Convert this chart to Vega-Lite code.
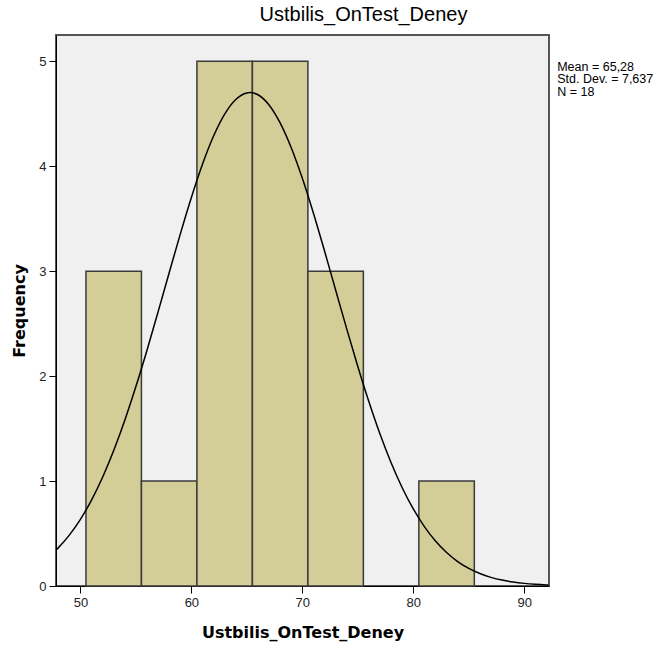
{
  "$schema": "https://vega.github.io/schema/vega-lite/v6.json",
  "autosize": "none",
  "width": 493,
  "height": 551,
  "padding": {"left": 56, "top": 35, "right": 108, "bottom": 72},
  "background": "white",
  "title": {"text": "Ustbilis_OnTest_Deney", "font": "Liberation Sans", "fontSize": 20, "fontWeight": "normal", "color": "black", "anchor": "middle", "dx": 61, "offset": 10},
  "config": {
    "view": {"fill": "#F0F0F0", "stroke": "#555555", "strokeWidth": 2},
    "axis": {"grid": false, "domainColor": "black", "domainWidth": 1, "tickColor": "black", "tickSize": 7, "labelFont": "Liberation Sans", "labelFontSize": 13, "labelColor": "#222222", "titleFont": "DejaVu Sans", "titleFontSize": 16, "titleFontWeight": "bold", "titleColor": "black"}
  },
  "datasets": {
    "bars": [
      {"bin_start": 50.5, "bin_end": 55.5, "count": 3},
      {"bin_start": 55.5, "bin_end": 60.5, "count": 1},
      {"bin_start": 60.5, "bin_end": 65.5, "count": 5},
      {"bin_start": 65.5, "bin_end": 70.5, "count": 5},
      {"bin_start": 70.5, "bin_end": 75.5, "count": 3},
      {"bin_start": 80.5, "bin_end": 85.5, "count": 1}
    ],
    "curve": [
      {"x": 47.8, "y": 0.3425}, {"x": 48, "y": 0.3635}, {"x": 49, "y": 0.4847}, {"x": 50, "y": 0.6353},
      {"x": 51, "y": 0.8184}, {"x": 52, "y": 1.0366}, {"x": 53, "y": 1.2907}, {"x": 54, "y": 1.5796},
      {"x": 55, "y": 1.9}, {"x": 56, "y": 2.247}, {"x": 57, "y": 2.6119}, {"x": 58, "y": 2.9848},
      {"x": 59, "y": 3.3528}, {"x": 60, "y": 3.7019}, {"x": 61, "y": 4.0182}, {"x": 62, "y": 4.2873},
      {"x": 63, "y": 4.4966}, {"x": 64, "y": 4.6359}, {"x": 65, "y": 4.6984}, {"x": 65.28, "y": 4.7015},
      {"x": 66, "y": 4.6807}, {"x": 67, "y": 4.5838}, {"x": 68, "y": 4.4126}, {"x": 69, "y": 4.1756},
      {"x": 70, "y": 3.8842}, {"x": 71, "y": 3.5516}, {"x": 72, "y": 3.1923}, {"x": 73, "y": 2.8207},
      {"x": 74, "y": 2.4499}, {"x": 75, "y": 2.0917}, {"x": 76, "y": 1.7554}, {"x": 77, "y": 1.4482},
      {"x": 78, "y": 1.1743}, {"x": 79, "y": 0.9362}, {"x": 80, "y": 0.7337}, {"x": 81, "y": 0.5653},
      {"x": 82, "y": 0.428}, {"x": 83, "y": 0.3186}, {"x": 84, "y": 0.2331}, {"x": 85, "y": 0.1677},
      {"x": 86, "y": 0.1185}, {"x": 87, "y": 0.0824}, {"x": 88, "y": 0.0563}, {"x": 89, "y": 0.0378},
      {"x": 90, "y": 0.025}, {"x": 91, "y": 0.0162}, {"x": 92, "y": 0.0103}, {"x": 92.2, "y": 0.0094}
    ]
  },
  "layer": [
    {
      "data": {"name": "bars"},
      "mark": {"type": "rect", "fill": "#D3CE98", "stroke": "#3A3A3A", "strokeWidth": 1.5},
      "encoding": {
        "x": {"field": "bin_start", "type": "quantitative", "scale": {"domain": [47.8, 92.23], "nice": false, "zero": false},
              "axis": {"title": "Ustbilis_OnTest_Deney", "values": [50, 60, 70, 80, 90], "labelPadding": 3, "titlePadding": 15}},
        "x2": {"field": "bin_end"},
        "y": {"field": "count", "type": "quantitative", "scale": {"domain": [0, 5.25], "nice": false},
              "axis": {"title": "Frequency", "values": [0, 1, 2, 3, 4, 5], "format": "d", "labelPadding": 3, "titlePadding": 11}},
        "y2": {"datum": 0}
      }
    },
    {
      "data": {"name": "curve"},
      "mark": {"type": "line", "color": "black", "strokeWidth": 1.5, "interpolate": "monotone", "clip": true},
      "encoding": {
        "x": {"field": "x", "type": "quantitative"},
        "y": {"field": "y", "type": "quantitative"}
      }
    },
    {
      "data": {"values": [{"stats": "Mean = 65,28"}]},
      "mark": {"type": "text", "align": "left", "baseline": "alphabetic", "font": "Liberation Sans", "fontSize": 12.5, "lineHeight": 12.8, "color": "black", "clip": false,
               "text": ["Mean = 65,28", "Std. Dev. = 7,637", "N = 18"]},
      "encoding": {
        "x": {"datum": 92.97},
        "y": {"datum": 4.91}
      }
    }
  ]
}
